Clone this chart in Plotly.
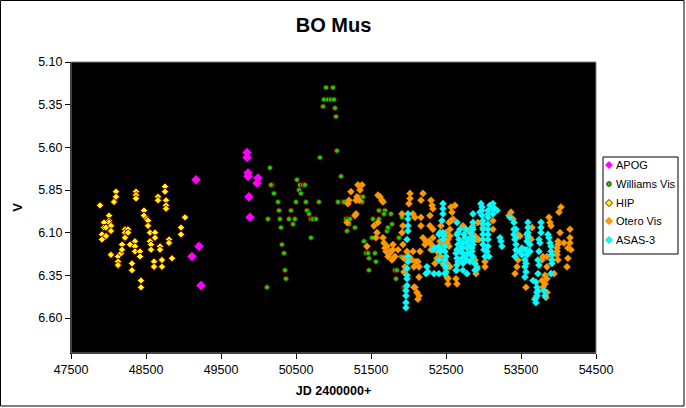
import plotly.graph_objects as go

# ---------------- data ----------------
series_names = ["APOG", "Williams Vis", "HIP", "Otero Vis", "ASAS-3"]

apog_jd = [49167, 49207, 49113, 49233, 49847, 49847, 49860, 49860, 49993, 49980, 49873, 49887]
apog_v = [5.79, 6.18, 6.24, 6.41, 5.63, 5.66, 5.75, 5.77, 5.78, 5.81, 5.89, 6.01]

williams_jd = [50900, 50993, 50873, 50926, 50966, 51006, 50860, 51020, 51033, 51046,
               50820, 50153, 50180, 50166, 50513, 50553, 50593, 50620, 50540, 50566,
               50206, 50260, 50500, 50633, 50806, 50273, 50433, 50646, 50126, 50286,
               50406, 50486, 50673, 50700, 50726, 50766, 50460, 50300, 50700, 50313,
               50340, 50353, 50366, 50113,
               51100, 51126, 51060, 51140, 51366, 51393, 51380, 51166, 51193, 51220,
               51206, 51286, 51180, 51406, 51433, 51460, 51553, 51473, 51566, 51473,
               51526, 51606, 51606, 51686, 51673, 51766, 51713, 51726, 51780, 51513,
               51873, 51913, 51900, 51980, 51993, 51820, 51846, 51833, 51940, 51953]
williams_v = [5.25, 5.25, 5.32, 5.32, 5.32, 5.32, 5.36, 5.37, 5.42, 5.62,
              5.66, 5.72, 5.82, 5.82, 5.79, 5.82, 5.82, 5.82, 5.85, 5.87,
              5.87, 5.92, 5.92, 5.92, 5.92, 5.97, 5.97, 5.97, 6.02, 6.02,
              6.02, 6.02, 5.99, 6.02, 6.02, 6.02, 6.05, 6.07, 6.13, 6.17,
              6.22, 6.32, 6.37, 6.42,
              5.77, 5.92, 5.92, 5.92, 5.89, 5.89, 5.92, 6.02, 6.02, 6.02,
              6.05, 6.07, 6.09, 6.15, 6.22, 6.22, 6.22, 6.25, 6.27, 6.32,
              6.02, 6.02, 5.97, 5.97, 5.99, 5.99, 6.09, 6.07, 6.05, 6.13,
              6.13, 6.01, 6.24, 6.22, 6.25, 6.32, 6.32, 6.37, 6.42, 6.42]

hip_jd = [47887, 48100, 48100, 48073, 48367, 48367, 48367, 48753, 48753, 48660,
          48660, 48767, 48767, 48767, 48007, 48007, 48007, 47940, 47940, 47967,
          48033, 48033, 47913, 47913, 47967, 48033, 48127, 48127, 48127, 48167,
          48180, 48180, 48220, 48220, 48220, 48260, 48260, 48287, 48353, 48353,
          48353, 48313, 48313, 48420, 48420, 48433, 48433, 48473, 48473, 48513,
          48527, 48527, 48553, 48553, 48567, 48567, 48620, 48620, 48607, 48607,
          48687, 48687, 48713, 48713, 48807, 48807, 48847, 48967, 48967, 49020]
hip_v = [5.94, 5.86, 5.89, 5.92, 5.86, 5.88, 5.90, 5.83, 5.86, 5.89,
         5.91, 5.91, 5.94, 5.96, 6.00, 6.03, 6.04, 6.04, 6.07, 6.07,
         6.06, 6.09, 6.11, 6.14, 6.12, 6.23, 6.24, 6.27, 6.29, 6.22,
         6.17, 6.20, 6.08, 6.10, 6.13, 6.08, 6.10, 6.17, 6.15, 6.18,
         6.21, 6.28, 6.32, 6.21, 6.24, 6.38, 6.42, 5.97, 6.00, 6.02,
         6.03, 6.06, 6.10, 6.15, 6.17, 6.20, 6.10, 6.13, 6.27, 6.30,
         6.18, 6.20, 6.26, 6.30, 6.14, 6.16, 6.25, 6.07, 6.11, 6.01]

otero_jd = [51326, 51380, 51353, 51233, 51313, 51340, 51206, 51300, 51193, 51286, 51300, 51180,
            51593, 51620, 51660, 51646, 51540, 51593, 51580, 51566, 51660, 51673, 51713, 51686,
            51793, 51793, 51753, 51446, 51820, 51780, 51753, 51726, 51700, 51860,
            52020, 52020, 52006, 52193, 52166, 52300, 52313, 52326, 52566, 52580, 52593, 52566,
            52540, 52060, 52086, 51913, 51926, 51913, 51926, 51980, 52060, 52153, 51940, 52006,
            52046, 52126, 52140, 52100, 52073, 51940, 51953, 52140, 52086, 52113, 52140, 52126,
            52073,
            52166, 52286, 52286, 52166, 52193, 52220, 52233, 52326, 52326, 52273, 52286, 52326,
            52300, 52380, 52353, 52380, 52433, 52420, 52460, 52526, 52420, 52513, 52513, 52526,
            52526, 52460, 52500, 52553, 52553, 52500, 52540, 52513, 52433, 52553, 52633, 52646,
            52646, 52620,
            52740, 52726, 52860, 52846, 52886, 52793, 52846, 52860, 52873, 52900, 52900, 52886,
            52913, 52926, 52913, 52940, 52993, 53020, 53020, 53126, 53126,
            53366, 53393, 53340, 53460, 53446, 53420, 53646, 53620, 53633, 53460, 53486, 53566,
            53780, 53793, 53846, 53913, 53846, 53820, 53846, 53820, 53793, 53846, 53780, 53833,
            53873, 53886, 53900, 53940, 53993, 53993, 53980, 53980, 53980, 53993, 54020, 54073,
            54153, 54153, 54153, 54126, 54126, 54113, 54033, 54006, 54166]
otero_v = [5.82, 5.82, 5.85, 5.86, 5.89, 5.91, 5.91, 5.91, 5.93, 6.00, 5.99, 6.04,
           5.88, 5.89, 5.92, 5.91, 6.06, 6.04, 6.10, 6.13, 6.13, 6.16, 6.18, 6.19,
           6.17, 6.20, 6.21, 6.18, 6.24, 6.26, 6.22, 6.24, 6.21, 6.20,
           5.87, 5.90, 5.93, 5.87, 5.91, 5.91, 5.94, 5.96, 5.95, 5.98, 6.02, 6.03,
           6.04, 5.99, 6.01, 5.99, 6.06, 6.10, 6.17, 6.21, 6.21, 6.21, 6.25, 6.24,
           6.26, 6.27, 6.30, 6.27, 6.30, 6.33, 6.30, 6.36, 6.42, 6.45, 6.47, 6.49,
           6.42,
           6.01, 6.00, 6.06, 6.06, 6.13, 6.17, 6.15, 6.13, 6.08, 6.15, 6.16, 6.18,
           6.20, 6.21, 6.28, 6.25, 6.24, 6.15, 6.16, 6.14, 6.24, 6.28, 6.36, 6.40,
           6.37, 6.28, 6.31, 6.08, 6.12, 6.10, 6.18, 6.16, 6.06, 6.30, 6.37, 6.32,
           6.40, 5.94,
           6.07, 6.06, 6.06, 6.11, 6.12, 6.09, 6.14, 6.25, 6.27, 6.32, 6.34, 6.26,
           6.30, 6.04, 6.14, 6.14, 6.07, 6.27, 6.30, 6.03, 6.08,
           5.98, 6.02, 6.00, 6.26, 6.30, 6.34, 6.07, 6.13, 6.14, 6.11, 6.12, 6.42,
           6.26, 6.24, 6.24, 6.26, 6.30, 6.35, 6.37, 6.40, 6.42, 6.45, 6.38, 6.48,
           6.01, 6.04, 6.06, 6.34, 6.15, 6.17, 6.19, 6.21, 6.23, 6.26, 6.10, 6.16,
           6.08, 6.13, 6.16, 6.19, 6.25, 6.30, 5.95, 5.98, 6.20]

asas_jd = [51993, 51993, 51993, 51993, 51980, 51993, 51993, 51980, 51980, 51980, 51980, 51966,
           51966, 51966, 51966,
           52246, 52260, 52233, 52340, 52326, 52353,
           52460, 52460, 52460, 52446, 52420, 52460, 52473, 52406, 52460, 52406, 52433, 52420,
           52486, 52486, 52500, 52406, 52486, 52473, 52500, 52406, 52486, 52500,
           52660, 52646, 52686, 52646, 52673, 52660, 52646, 52633, 52646, 52660, 52646, 52633,
           52686, 52713,
           52740, 52753, 52726, 52713, 52726, 52713, 52740, 52766, 52780, 52780, 52753, 52726,
           52780, 52793, 52793, 52726, 52780,
           52860, 52860, 52846, 52833, 52820, 52860, 52860, 52860, 52846, 52833, 52860, 52886,
           52820, 52860, 52846, 52860, 52820, 52886, 52913, 52953,
           52966, 52980, 52980, 52980, 52993, 52993, 52993, 52993, 52993, 52993, 53006, 53020,
           53126, 53086, 53113, 53060, 53060, 53126, 53180, 53060, 53060, 53060, 53060, 53060,
           53060, 53046, 53073, 53153,
           53220, 53233, 53246,
           53353, 53406, 53406, 53406, 53420, 53433, 53446, 53420, 53433, 53433, 53433,
           53513, 53486, 53513,
           53593, 53593, 53593, 53580, 53593, 53580, 53620, 53580, 53553, 53620, 53580, 53553,
           53566, 53553, 53566, 53553,
           53766, 53766, 53766, 53740, 53753, 53740, 53726, 53740, 53726, 53660, 53700, 53713,
           53713, 53713, 53700, 53700, 53726, 53686, 53806, 53820,
           53860, 53873, 53886, 53900, 53900, 53913, 53913, 53913, 53900]
asas_v = [5.99, 6.02, 6.06, 6.09, 6.14, 6.24, 6.27, 6.31, 6.35, 6.37, 6.41, 6.44,
          6.47, 6.51, 6.54,
          6.30, 6.33, 6.34, 6.34, 6.20, 6.19,
          5.93, 5.96, 5.99, 6.03, 6.10, 6.10, 6.12, 6.11, 6.14, 6.18, 6.20, 6.21,
          6.18, 6.21, 6.24, 6.26, 6.26, 6.29, 6.33, 6.34, 6.34, 6.30,
          6.10, 6.04, 6.08, 6.11, 6.14, 6.17, 6.20, 6.22, 6.25, 6.27, 6.29, 6.32,
          6.21, 6.18,
          6.11, 6.13, 6.16, 6.19, 6.22, 6.25, 6.27, 6.08, 6.16, 6.19, 6.24, 6.28,
          6.26, 6.22, 6.15, 6.32, 6.34,
          5.99, 6.04, 6.07, 6.10, 6.13, 6.08, 6.13, 6.17, 6.21, 6.23, 6.27, 6.32,
          6.18, 6.15, 6.19, 6.24, 6.27, 6.28, 6.31, 5.98,
          5.93, 5.95, 5.97, 6.00, 6.03, 6.05, 6.08, 6.11, 6.14, 6.17, 6.20, 6.24,
          5.93, 5.94, 5.96, 5.97, 5.99, 5.99, 5.97, 6.01, 6.05, 6.08, 6.11, 6.14,
          6.18, 6.21, 6.24, 5.96,
          6.13, 6.15, 6.18,
          6.01, 6.04, 6.08, 6.11, 6.14, 6.17, 6.21, 6.24, 6.08, 6.13, 6.20,
          6.19, 6.21, 6.23,
          6.04, 6.07, 6.10, 6.11, 6.13, 6.15, 6.17, 6.20, 6.20, 6.21, 6.23, 6.26,
          6.28, 6.30, 6.33, 6.36,
          6.04, 6.07, 6.10, 6.14, 6.16, 6.21, 6.26, 6.29, 6.34, 6.38, 6.39, 6.42,
          6.45, 6.47, 6.48, 6.51, 6.44, 6.49, 6.44, 6.47,
          6.11, 6.13, 6.16, 6.18, 6.21, 6.23, 6.26, 6.28, 6.34]

x_ticks = [47500, 48500, 49500, 50500, 51500, 52500, 53500, 54500]
y_ticks = [5.10, 5.35, 5.60, 5.85, 6.10, 6.35, 6.60]

# ---------------- styling ----------------
FONT = "Liberation Sans, Arial, sans-serif"
styles = {
    "APOG": dict(symbol="diamond", size=7, color="#FF00FF", line=dict(color="#FF00FF", width=0.5)),
    "Williams Vis": dict(symbol="circle", size=5, color="#00E000", line=dict(color="#800000", width=1)),
    "HIP": dict(symbol="diamond", size=5.5, color="#FFFF00", line=dict(color="#800000", width=1)),
    "Otero Vis": dict(symbol="diamond", size=5.5, color="#FF9900", line=dict(color="#E88A00", width=0.5)),
    "ASAS-3": dict(symbol="diamond", size=5.5, color="#00FFFF", line=dict(color="#33CCCC", width=0.5)),
}
data = {
    "APOG": (apog_jd, apog_v),
    "Williams Vis": (williams_jd, williams_v),
    "HIP": (hip_jd, hip_v),
    "Otero Vis": (otero_jd, otero_v),
    "ASAS-3": (asas_jd, asas_v),
}

fig = go.Figure()
for name in series_names:
    xs, ys = data[name]
    fig.add_trace(go.Scatter(x=xs, y=ys, mode="markers", name=name,
                             marker=styles[name], showlegend=False,
                             cliponaxis=False))

# plot area geometry (px)
L, R, T, B = 71, 596, 62, 353
W, H = R - L, B - T


def px_x(p):
    return (p - L) / W


def px_y(p):
    return (B - p) / H


shapes = []
# outer chart border
shapes.append(dict(type="rect", xref="paper", yref="paper",
                   x0=px_x(0.5), x1=px_x(684), y0=px_y(406), y1=px_y(0.5),
                   line=dict(color="black", width=1), fillcolor="rgba(0,0,0,0)", layer="above"))
# plot area gray border
shapes.append(dict(type="rect", xref="paper", yref="paper", x0=0, x1=1, y0=0, y1=1,
                   line=dict(color="#808080", width=1), fillcolor="rgba(0,0,0,0)", layer="above"))
# legend box
shapes.append(dict(type="rect", xref="paper", yref="paper",
                   x0=px_x(603), x1=px_x(678), y0=px_y(254), y1=px_y(157),
                   line=dict(color="black", width=1), fillcolor="white", layer="above"))

annotations = []
entry_y = [165, 184, 203, 221, 240]
for name, ey in zip(series_names, entry_y):
    st = styles[name]
    cx, cy = px_x(609), px_y(ey)
    if st["symbol"] == "diamond":
        hx, hy = 3.5 / W, 3.5 / H
        path = (f"M {cx - hx},{cy} L {cx},{cy + hy} L {cx + hx},{cy} "
                f"L {cx},{cy - hy} Z")
        shapes.append(dict(type="path", xref="paper", yref="paper", path=path,
                           fillcolor=st["color"],
                           line=dict(color=st["line"]["color"], width=1), layer="above"))
    else:
        rx, ry = 2.3 / W, 2.3 / H
        shapes.append(dict(type="circle", xref="paper", yref="paper",
                           x0=cx - rx, x1=cx + rx, y0=cy - ry, y1=cy + ry,
                           fillcolor=st["color"],
                           line=dict(color=st["line"]["color"], width=1), layer="above"))
    annotations.append(dict(text=name, xref="paper", yref="paper", x=px_x(614), y=cy,
                            xanchor="left", yanchor="middle", showarrow=False,
                            font=dict(family=FONT, size=11, color="black")))

fig.update_layout(
    width=686, height=408,
    margin=dict(l=L, r=686 - R, t=T, b=408 - B, autoexpand=False),
    paper_bgcolor="white", plot_bgcolor="black",
    font=dict(family=FONT, size=12.5, color="black"),
    title=dict(text="<b>BO Mus</b>", x=0.5, xref="paper", xanchor="center",
               y=1 - 25 / 408, yref="container", yanchor="middle",
               font=dict(family=FONT, size=20, color="black")),
    showlegend=False,
    shapes=shapes,
    annotations=annotations,
)
fig.update_xaxes(range=[47500, 54500], tickmode="array", tickvals=x_ticks,
                 ticktext=[str(v) for v in x_ticks],
                 ticks="outside", ticklen=5, tickcolor="black", tickwidth=1,
                 showgrid=False, zeroline=False, showline=True, linecolor="black", linewidth=1,
                 tickfont=dict(family=FONT, size=12.5, color="black"),
                 title=dict(text="<b>JD 2400000+</b>", standoff=10,
                            font=dict(family=FONT, size=12.5, color="black")))
fig.update_yaxes(range=[6.805, 5.10], tickmode="array", tickvals=y_ticks,
                 ticktext=[f"{v:.2f}" for v in y_ticks],
                 ticks="outside", ticklen=5, tickcolor="black", tickwidth=1,
                 showgrid=False, zeroline=False, showline=True, linecolor="black", linewidth=1,
                 tickfont=dict(family=FONT, size=12.5, color="black"),
                 title=dict(text="<b>V</b>", standoff=12,
                            font=dict(family=FONT, size=13, color="black")))

fig.write_html("out.html", config={"displayModeBar": False},
               post_script="document.body.style.margin='0';document.body.style.overflow='hidden';")
